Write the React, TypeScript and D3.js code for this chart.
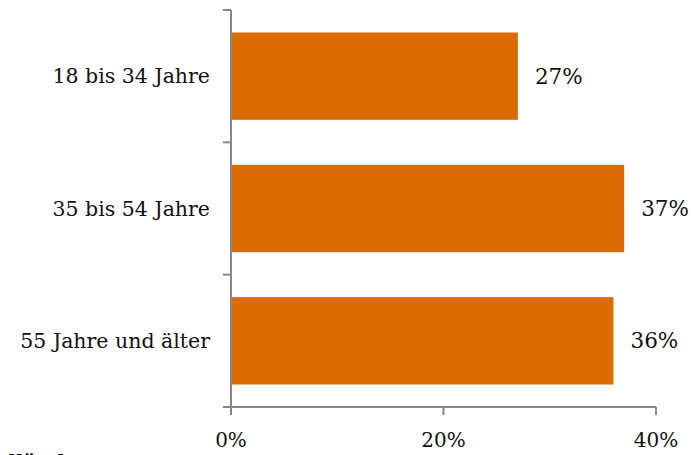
import React from 'react';
import * as d3 from 'd3';

const categories = ['18 bis 34 Jahre', '35 bis 54 Jahre', '55 Jahre und älter'];
const values = [27, 37, 36];
const xTicks = [0, 20, 40];

const WIDTH = 694;
const HEIGHT = 455;
const FONT = '"DejaVu Serif", Georgia, serif';
const ORANGE = '#DB6A00';
const AXIS = '#868686';

export default function App() {
  const x = d3.scaleLinear().domain([0, 40]).range([231, 656]);
  const y = d3.scaleBand<string>().domain(categories).range([10, 407]).paddingInner(0.34).paddingOuter(0.17);
  const bandEdges = d3.range(categories.length + 1).map(i => 10 + i * ((407 - 10) / categories.length));

  return (
    <svg width={WIDTH} height={HEIGHT} style={{ position: 'absolute', left: 0, top: 0 }} fontFamily={FONT}>
      {/* bars */}
      {categories.map((c, i) => (
        <rect key={c} x={x(0)} y={y(c)} width={x(values[i]) - x(0)} height={y.bandwidth()} fill={ORANGE} />
      ))}
      {/* value labels */}
      {categories.map((c, i) => (
        <text key={c} x={x(values[i]) + 17} y={(y(c) || 0) + y.bandwidth() / 2} dy="0.35em" fontSize={21.5} fill="#111">
          {values[i]}%
        </text>
      ))}
      {/* y axis */}
      <line x1={x(0)} x2={x(0)} y1={10} y2={407} stroke={AXIS} strokeWidth={2} />
      {bandEdges.map((e, i) => (
        <line key={i} x1={x(0) - 8} x2={x(0)} y1={e} y2={e} stroke={AXIS} strokeWidth={2} />
      ))}
      {categories.map(c => (
        <text key={c} x={210} y={(y(c) || 0) + y.bandwidth() / 2} dy="0.35em" textAnchor="end" fontSize={20.5} fill="#111">
          {c}
        </text>
      ))}
      {/* x axis */}
      <line x1={x(0) - 8} x2={x(40)} y1={407} y2={407} stroke={AXIS} strokeWidth={2} />
      {xTicks.map(t => (
        <g key={t}>
          <line x1={x(t)} x2={x(t)} y1={407} y2={415} stroke={AXIS} strokeWidth={2} />
          <text x={x(t)} y={447} textAnchor="middle" fontSize={20} fill="#111">{t}%</text>
        </g>
      ))}
      <text x={2} y={470} fontSize={20} fontWeight="bold" fill="#111">dländer</text>
    </svg>
  );
}
